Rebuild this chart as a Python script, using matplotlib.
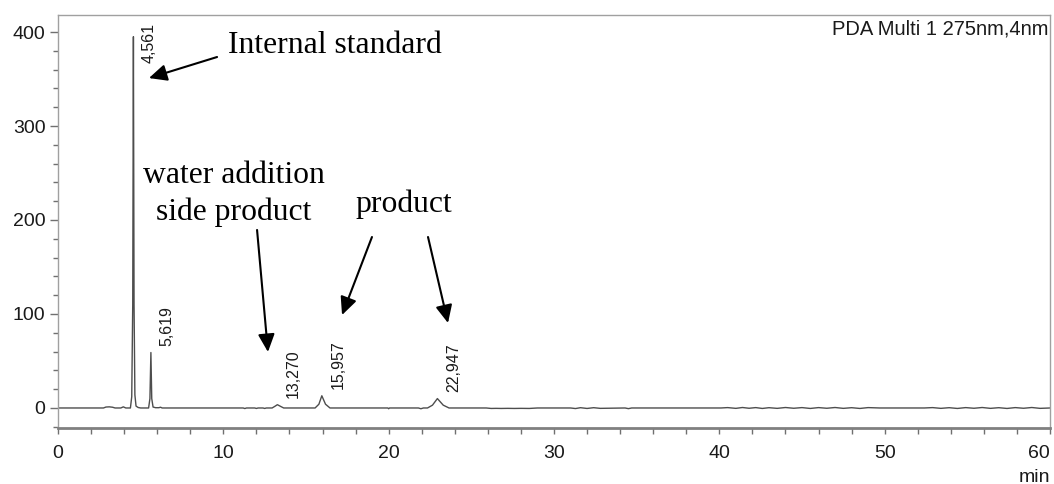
import matplotlib
matplotlib.use("Agg")
import matplotlib.pyplot as plt
from matplotlib.ticker import MultipleLocator

# Chromatogram trace (retention time in min, detector signal in mAU)
time_min = [
    0.0, 2.75, 2.9, 3.1, 3.3, 3.45, 3.8, 3.95, 4.1,
    4.38, 4.46, 4.52, 4.561, 4.60, 4.65, 4.72, 4.85, 5.0,
    5.48, 5.56, 5.619, 5.67, 5.75, 5.9, 6.1, 6.2, 6.3,
    11.2, 11.3, 11.4, 11.9, 12.0, 12.1, 12.4, 12.5, 12.6,
    12.95, 13.12, 13.27, 13.45, 13.65,
    15.55, 15.78, 15.957, 16.18, 16.45,
    19.95, 20.0, 20.05, 21.8, 21.95, 22.1,
    22.35, 22.65, 22.947, 23.3, 23.65,
    25.9, 26.2, 26.5, 26.8, 27.2, 27.6, 28.0, 28.5, 29.0,
    31.0, 31.3, 31.6, 32.0, 32.4, 32.8, 34.3, 34.5, 34.7,
    40.1, 40.5, 41.0, 41.4, 41.8, 42.2, 42.6, 43.0, 43.5, 44.0,
    44.5, 45.0, 45.5, 46.0, 46.5, 47.0, 47.5, 48.0, 48.5, 49.0, 49.7,
    52.4, 52.9, 53.4, 53.9, 54.4, 54.9, 55.4, 55.9, 56.4, 56.9,
    57.4, 57.9, 58.4, 58.9, 59.4, 60.0,
]
signal_mau = [
    0.0, 0.0, 1.0, 1.2, 0.8, 0.0, 0.0, 1.2, 0.0,
    0.0, 12.0, 110.0, 395.0, 110.0, 14.0, 2.0, 0.5, 0.0,
    0.0, 10.0, 59.0, 10.0, 1.0, 0.3, 0.3, 0.8, 0.0,
    0.0, -0.6, 0.0, 0.0, -0.5, 0.0, 0.0, -0.5, 0.0,
    0.0, 1.8, 3.5, 1.8, 0.0,
    0.0, 4.0, 13.0, 4.0, 0.0,
    0.0, -0.8, 0.0, 0.0, -0.8, 0.0,
    0.0, 3.0, 10.0, 3.0, 0.0,
    0.0, -0.5, -0.4, -0.5, -0.4, -0.5, -0.4, -0.5, 0.0,
    0.0, -0.6, 0.3, -0.5, 0.3, -0.4, 0.0, -0.7, 0.0,
    0.0, 0.4, -0.4, 0.5, -0.3, 0.4, -0.5, 0.3, -0.4, 0.5,
    -0.3, 0.4, -0.5, 0.4, -0.3, 0.5, -0.4, 0.3, -0.5, 0.4, 0.0,
    0.0, 0.4, -0.4, 0.3, -0.5, 0.4, -0.3, 0.5, -0.4, 0.3,
    -0.5, 0.4, -0.3, 0.5, -0.4, 0.0,
]

# Integrated peaks
peak_rt = [4.561, 5.619, 13.270, 15.957, 22.947]
peak_height = [395.0, 59.0, 3.5, 13.0, 10.0]
peak_labels = ["4,561", "5,619", "13,270", "15,957", "22,947"]

x_ticks = [0, 10, 20, 30, 40, 50, 60]
y_ticks = [0, 100, 200, 300, 400]

sans = ["Liberation Sans", "DejaVu Sans"]
serif = ["Liberation Serif", "DejaVu Serif"]
plt.rcParams["font.family"] = sans

fig = plt.figure(figsize=(10.54, 4.84), dpi=100)
ax = fig.add_axes([58 / 1054, 1 - 428 / 484, 992 / 1054, 413 / 484])

ax.plot(time_min, signal_mau, color="#4d4d4d", lw=1.0)

ax.set_xlim(0, 60)
ax.set_ylim(-21.3, 418.1)
ax.set_xticks(x_ticks)
ax.set_yticks(y_ticks)
ax.xaxis.set_minor_locator(MultipleLocator(2))
ax.yaxis.set_minor_locator(MultipleLocator(20))
ax.tick_params(axis="both", which="both", direction="out", colors="#707070",
               labelcolor="#1a1a1a", labelsize=14)
ax.tick_params(axis="x", which="both", length=4, width=1, pad=8)
ax.tick_params(axis="y", which="major", length=6, width=1, pad=3)
ax.tick_params(axis="y", which="minor", length=3.5, width=1)

# last time label sits flush with the right end of the axis
ax.get_xticklabels()[-1].set_horizontalalignment("right")
ax.get_xticklabels()[-1].set_x(60)
for lab in ax.xaxis.get_majorticklabels()[-1:]:
    lab.set_ha("right")

for side in ("top", "right", "left"):
    ax.spines[side].set_color("#a0a0a0")
    ax.spines[side].set_linewidth(1.0)
ax.spines["bottom"].set_color("#808080")
ax.spines["bottom"].set_linewidth(2.0)

# Retention-time labels above each peak
label_ceiling = 367.0
for rt, h, lab in zip(peak_rt, peak_height, peak_labels):
    ax.text(rt + 0.97, min(h + 7.0, label_ceiling), lab, rotation=90,
            ha="center", va="bottom", fontsize=11.5, color="#1a1a1a")

ax.text(0.998, 0.99, "PDA Multi 1 275nm,4nm", transform=ax.transAxes,
        ha="right", va="top", fontsize=14.5, color="#1a1a1a")
fig.text(1050 / 1054, 1 - 477 / 484, "min", ha="right", va="center",
         fontsize=14, color="#1a1a1a")

# Compound annotations
arrow = dict(arrowstyle="-|>,head_length=0.6,head_width=0.28", color="black",
             lw=1.5, mutation_scale=18, shrinkA=0, shrinkB=0)
ann_size = 22.8

ax.text(10.28, 377.7, "Internal standard", family=serif, fontsize=ann_size,
        ha="left", va="baseline")
ax.annotate("", xy=(5.50, 351.0), xytext=(9.62, 373.4), arrowprops=arrow)

ax.text(10.65, 239.4, "water addition", family=serif, fontsize=ann_size,
        ha="center", va="baseline")
ax.text(10.65, 200.0, "side product", family=serif, fontsize=ann_size,
        ha="center", va="baseline")
ax.annotate("", xy=(12.70, 59.6), xytext=(12.04, 189.4), arrowprops=arrow)

ax.text(20.90, 208.5, "product", family=serif, fontsize=ann_size,
        ha="center", va="baseline")
ax.annotate("", xy=(17.18, 98.9), xytext=(18.99, 181.9), arrowprops=arrow)
ax.annotate("", xy=(23.59, 90.4), xytext=(22.38, 181.9), arrowprops=arrow)

fig.savefig("out.png", dpi=100)
